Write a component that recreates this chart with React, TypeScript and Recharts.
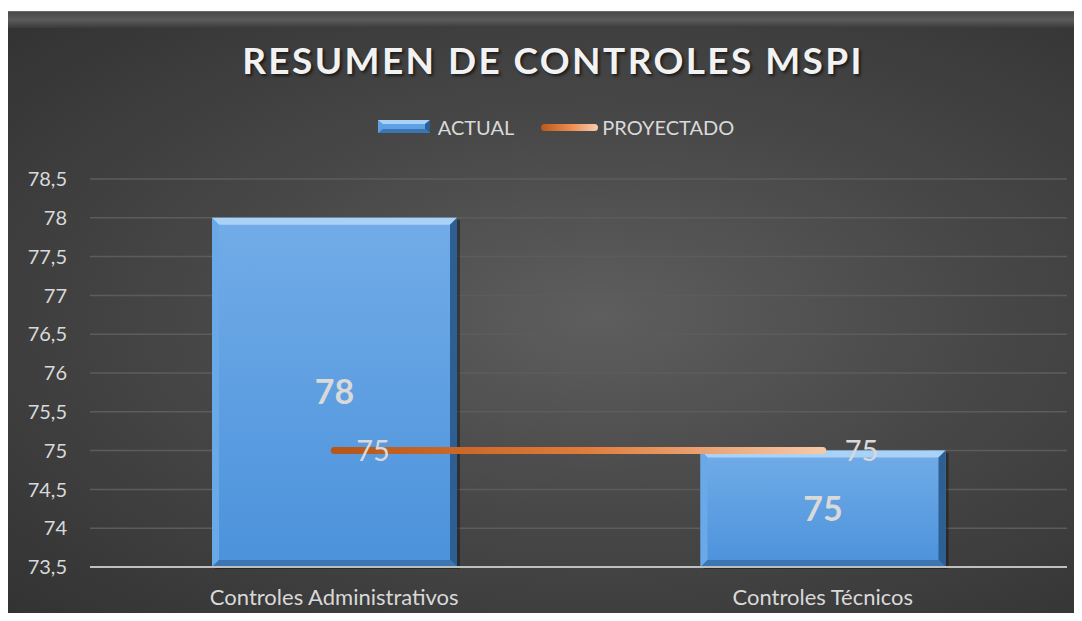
import { ComposedChart, Bar, Line, XAxis, YAxis, CartesianGrid, LabelList } from "recharts";

const categories = ["Controles Administrativos", "Controles Técnicos"];
const actualValues = [78, 75];
const projectedValues = [75, 75];
const yTicks = [73.5, 74, 74.5, 75, 75.5, 76, 76.5, 77, 77.5, 78, 78.5];

const data = categories.map((name, i) => ({
  name,
  actual: actualValues[i],
  proyectado: projectedValues[i],
}));

const FONT = "Lato, 'Open Sans', sans-serif";
const TEXT = "#d9d9d9";

const BevelBar = (props: any) => {
  const { x, y, width, height } = props;
  if (!height || height <= 0) return null;
  const b = 7;
  return (
    <g>
      <rect x={x + 3} y={y + 2} width={width} height={height} fill="rgba(0,0,0,0.35)" />
      <rect x={x} y={y} width={width} height={height} fill="url(#barFill)" />
      <polygon points={`${x},${y} ${x + width},${y} ${x + width - b},${y + b} ${x + b},${y + b}`} fill="#a9d2f7" />
      <polygon points={`${x},${y} ${x + b},${y + b} ${x + b},${y + height - b} ${x},${y + height}`} fill="#6aa9e8" />
      <polygon points={`${x + width},${y} ${x + width},${y + height} ${x + width - b},${y + height - b} ${x + width - b},${y + b}`} fill="#2d5f93" />
      <polygon points={`${x},${y + height} ${x + b},${y + height - b} ${x + width - b},${y + height - b} ${x + width},${y + height}`} fill="#3b76b3" />
    </g>
  );
};

const LegendBox = () => (
  <div
    style={{
      position: "absolute",
      left: 0,
      top: 103,
      width: "100%",
      boxSizing: "border-box",
      paddingLeft: 22,
      display: "flex",
      justifyContent: "center",
      alignItems: "center",
      fontFamily: FONT,
      fontSize: 20,
      color: TEXT,
    }}
  >
    <svg width={54} height={14} style={{ marginRight: 6 }}>
      <rect x={0} y={0} width={52} height={13} fill="#5fa0e4" />
      <polygon points="0,0 52,0 47,4 5,4" fill="#a9d2f7" />
      <polygon points="52,0 52,13 47,9 47,4" fill="#2d5f93" />
      <polygon points="0,13 5,9 47,9 52,13" fill="#3b76b3" />
    </svg>
    <span style={{ marginRight: 26 }}>ACTUAL</span>
    <svg width={60} height={12} style={{ marginRight: 2 }}>
      <defs>
        <linearGradient id="legLine" x1="0" y1="0" x2="1" y2="0">
          <stop offset="0" stopColor="#b9581b" />
          <stop offset="0.5" stopColor="#ea8a4c" />
          <stop offset="1" stopColor="#f7cdb0" />
        </linearGradient>
      </defs>
      <rect x={1} y={3} width={57} height={7} rx={3.5} fill="url(#legLine)" />
    </svg>
    <span>PROYECTADO</span>
  </div>
);

export default function App() {
  return (
    <div style={{ position: "relative", width: 1082, height: 621, margin: -8, background: "#ffffff", overflow: "hidden" }}>
      <div
        style={{
          position: "absolute",
          left: 8,
          top: 11,
          width: 1074,
          height: 610,
          background: "radial-gradient(ellipse at 55% 50%, #5e5e5e 0%, #484848 45%, #323232 100%)",
          borderTop: "1px solid #6a6a6a",
        }}
      >
        <div style={{ position: "absolute", left: 0, top: 0, width: "100%", height: 16, background: "linear-gradient(#4a4a4a, #5c5c5c 50%, #3a3a3a)" }} />
        <div
          style={{
            position: "absolute",
            left: 0,
            top: 25,
            width: "100%",
            boxSizing: "border-box",
            paddingLeft: 16,
            textAlign: "center",
            fontFamily: FONT,
            fontWeight: 700,
            fontSize: 37,
            letterSpacing: 2.4,
            color: "#f2f2f2",
            textShadow: "2px 2px 3px rgba(0,0,0,0.6)",
          }}
        >
          RESUMEN DE CONTROLES MSPI
        </div>
        <LegendBox />
        <div style={{ position: "absolute", left: 0, top: 0 }}>
          <ComposedChart width={1074} height={610} data={data} margin={{ top: 167, right: 15, bottom: 0, left: 0 }}>
            <defs>
              <linearGradient id="barFill" x1="0" y1="0" x2="0" y2="1">
                <stop offset="0" stopColor="#72ace8" />
                <stop offset="1" stopColor="#4b92db" />
              </linearGradient>
              <linearGradient id="lineFill" gradientUnits="userSpaceOnUse" x1="326" y1="0" x2="814" y2="0">
                <stop offset="0" stopColor="#b5561a" />
                <stop offset="0.5" stopColor="#e07a38" />
                <stop offset="1" stopColor="#f6c8a8" />
              </linearGradient>
            </defs>
            <CartesianGrid vertical={false} stroke="#5c5c5c" strokeWidth={1.5} />
            <XAxis
              dataKey="name"
              height={55}
              tickLine={false}
              axisLine={{ stroke: "#bfbfbf", strokeWidth: 2 }}
              tick={{ fill: TEXT, fontFamily: FONT, fontSize: 22 }}
              tickMargin={16}
            />
            <YAxis
              width={82}
              domain={[73.5, 78.5]}
              ticks={yTicks}
              interval={0}
              axisLine={false}
              tickLine={false}
              tickSize={0}
              tickMargin={23}
              tickFormatter={(v: number) => String(v).replace(".", ",")}
              tick={{ fill: TEXT, fontFamily: FONT, fontSize: 20 }}
            />
            <Bar dataKey="actual" name="ACTUAL" barSize={245} shape={<BevelBar />} isAnimationActive={false}>
              <LabelList dataKey="actual" position="center" fill={TEXT} fontFamily={FONT} fontWeight={700} fontSize={34} />
            </Bar>
            <Line
              dataKey="proyectado"
              name="PROYECTADO"
              stroke="url(#lineFill)"
              strokeWidth={7}
              strokeLinecap="round"
              dot={false}
              activeDot={false}
              isAnimationActive={false}
            >
              <LabelList dataKey="proyectado" position="right" offset={22} fill={TEXT} fontFamily={FONT} fontSize={29} />
            </Line>
          </ComposedChart>
        </div>
      </div>
    </div>
  );
}
